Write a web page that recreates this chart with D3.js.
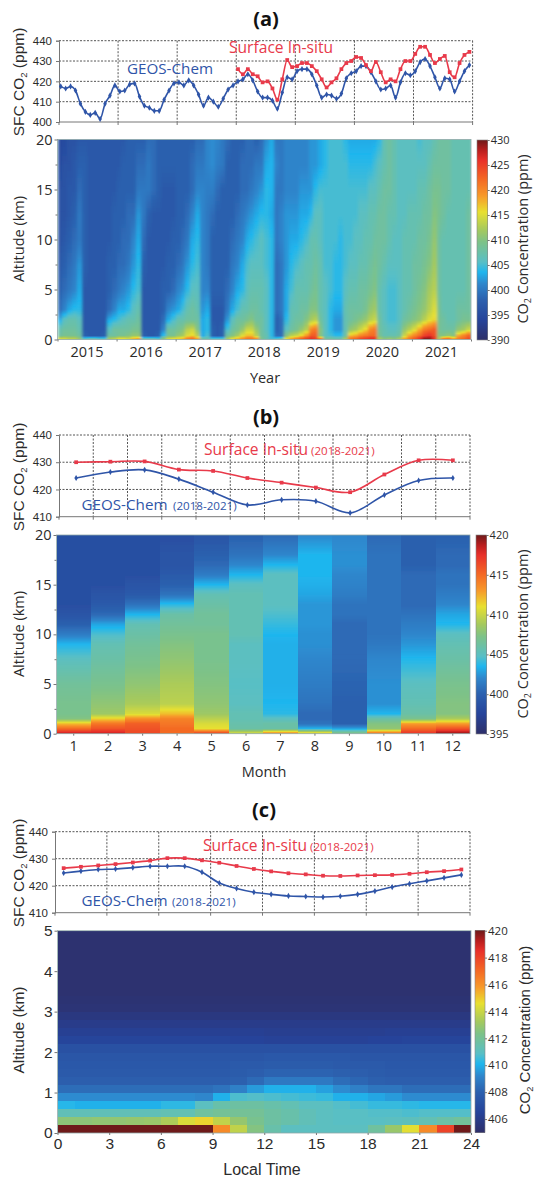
<!DOCTYPE html>
<html>
<head>
<meta charset="utf-8">
<script src="https://cdn.jsdelivr.net/npm/d3@7"></script>
<style>
body { margin: 0; background: #fff; }
svg { display: block; }
text { fill: #2b2b2b; }
</style>
</head>
<body>
<div id="plot"></div>
<script>
// surface CO2, monthly 2015-2021 (ppm)
const blueYear = [417.5,416.5,417.5,415.5,409,405,403.5,404.5,401.5,409,413,418,415,415.5,418.5,419,412.5,408,407,405.5,405.5,411,415.5,
	419,419.5,418,420.5,418,413.5,408,412,410,407.5,411.5,416,418,420,421,423.5,420.5,415,412,412,410.5,406.5,414.5,422,
	421,425,426,426,423.5,418,412,413.5,413,411.5,414,421.5,424,425,427.5,427.5,424.5,420,416,416.5,418,412,419.5,424,
	423,425,429.5,431,427.5,422,416.5,421.5,421,415,420,425,428];
const redYear = [426,423.5,426,423.5,422.5,419.5,420,416.5,411,421,430.5,427,427.5,429,429,427.5,425,421,417,419.5,421.5,426,429,430,
	432,431.5,428,425,429.5,424.5,419.5,421,420,426,430,430,433.5,437,437,433,429,431,432.5,424.5,422,429,433,434.5];
const redYearStart = 36;

const months = [1,2,3,4,5,6,7,8,9,10,11,12];
const blueMonth = [424.2,426.4,427.2,423.8,419,414.3,416.2,415.7,411.4,418,423.3,424.2];
const redMonth = [430,430.2,430.3,427.3,426.8,424.2,422.5,420.7,419,425.5,430.7,430.7];

const blueHour = [424.7,425.4,426,426.2,426.7,427.2,427.2,427.2,425,421,419,417.6,416.8,416.2,416,415.8,416.1,416.8,418,419.5,420.7,421.8,422.9,424];
const redHour = [426.5,427,427.5,428,428.6,429.3,430.2,430.2,429.4,428.5,427.3,426.2,425.3,424.6,424.2,423.7,423.6,423.8,423.9,424,424.4,425,425.4,426];

const years = [2015,2016,2017,2018,2019,2020,2021];
const sfcTicks = [400,410,420,430,440];
const sfcTicksShort = [410,420,430,440];
const altTicks = [0,5,10,15,20];
const altTicksLow = [0,1,2,3,4,5];
const hourTicks = [0,3,6,9,12,15,18,21,24];
const barTicksA = [390,395,400,405,410,415,420,425,430];
const barTicksB = [395,400,405,410,415,420];
const barTicksC = [406,408,410,412,414,416,418,420];

// altitude levels of the year profiles (km), one row per month
const levelsA = [0.1,0.4,1,2,3,5,7.5,10,12.5,15,17.5,20];
const curtainA = [
[414,408,407,403,399,398,397,396,396,396,395,395],
[414,409,408,406,401,399,398,397,396,396,396,395],
[413,409,408,407,403,400,399,398,397,397,396,396],
[413,409,408,407,404,401,400,399,398,397,397,396],
[411,408,407,406,404,403,402,400,400,399,398,397],
[405,398,397,397,397,397,398,398,398,398,398,397],
[406,397,397,397,397,397,397,397,397,397,397,397],
[406,397,397,397,397,397,397,397,397,397,397,397],
[405,397,397,397,397,397,397,397,397,397,397,397],
[405,398,397,397,397,397,397,397,397,397,397,397],
[412,408,406,403,399,398,398,397,397,397,397,397],
[413,408,408,404,401,399,398,398,398,397,397,397],
[415,409,408,405,403,400,399,398,398,398,397,397],
[415,409,408,406,403,401,399,399,398,398,398,397],
[414,410,408,407,404,402,400,399,399,398,398,398],
[417,411,409,407,406,404,402,401,399,398,398,398],
[418,411,409,408,407,405,404,403,402,400,399,398],
[406,398,397,397,397,397,398,399,400,400,399,398],
[406,397,397,397,397,397,397,397,398,400,400,399],
[406,397,397,397,397,397,397,397,397,399,399,399],
[405,398,397,397,397,397,397,397,397,398,398,398],
[410,404,401,399,398,398,397,397,397,397,398,398],
[414,409,408,403,401,398,398,397,397,397,398,398],
[415,409,408,405,402,399,398,398,397,397,398,398],
[416,411,409,407,403,401,399,398,398,398,398,398],
[417,412,410,407,405,402,400,399,398,398,398,398],
[420,415,413,408,407,404,402,400,399,398,398,398],
[421,416,414,408,408,406,404,403,401,399,399,398],
[418,413,410,408,407,406,405,404,403,401,400,399],
[407,403,403,403,402,401,401,401,401,401,400,399],
[407,405,404,404,403,401,400,400,400,400.5,401,401],
[405,398,398,397,397,398,398,398,399,400.5,401.5,401.5],
[405,397,397,397,397,398,398,398,398,399,400.5,401],
[405,398,398,397,397,398,398,398,398,398,400,400],
[412,408,405,402,400,399,398,398,398,398,398,399],
[415,410,408,406,403,401,400,399,398,398,398,398],
[417,412,409,408,405,403,401,400,399,398,398,398],
[419,415,411,408,407,404,403,401,400,399,399,398],
[421,417,414,409,407,406,405,403,401,399,399,399],
[421,417,414,410,408,407,406,404,402,400,399,399],
[419,413,411,408,408,407,406,405,403,401,400,398],
[409,408,408,408,407,407,406,406,404,402,400,399],
[407,407,406,406,406,406,405,405,404,404,403,401.5],
[405,404,404,404,404,404,404,404,403,403.5,403.5,403],
[405,399,398,398,399,399,399,400,400,400,401,400],
[406,399,399,399,400,400,400,401,401,400,400,400],
[415,410,406,404,403,403,402,402,402,401,401,401],
[418,413,408,407,407,405,404,403,402,401,401,401],
[420,414,409,408,407,407,405,403,402,401,401,401],
[422,416,411,408,408,407,406,404,403,402,401,401],
[424,419,413,410,408,407,407,405,403,402,401,401],
[426,423,420,412,410,408,407,407,404,402,402,402],
[425,423,421,413,410,409,408,407,406,404,402,402],
[420,410,410,408,407,407,407,406,406,405,403,403],
[408,406,406,406,406,406,405,405,405,405,404,404],
[408,405,404,404,404,405,405,405,405,405,405,405],
[407,404,402,402,403,404,404,405,405,405,405,405],
[407,404,402,402,403,404,404,404,405,405,405,405],
[412,408,407,407,407,406,405,405,405,405,405,404],
[421,417,411,408,408,407,406,405,405,405,404,403],
[422,418,412,409,408,407,406,406,405,405,404,403],
[424,420,414,410,408,408,407,406,406,405,404,403],
[425,421,416,411,409,408,407,407,406,405,404,403],
[426,422,420,413,411,409,408,407,407,406,404,403],
[426,422,421,414,412,410,409,408,407,406,405,403],
[412,409,408,408,407,407,408,408,408,407,406,404],
[410,407,407,406,406,406,407,408,408,408,407,407],
[411,407,406,405,405,405,406,407,407,408,408,408],
[410,407,406,405,405,405,406,406,407,407,407,407],
[412,408,407,406,406,406,406,406,406,406,406,406],
[418,414,411,408,407,407,407,407,406,406,406,406],
[421,418,413,409,408,407,407,407,407,406,406,406],
[423,420,415,410,409,408,408,407,407,406,406,406],
[426,422,418,411,410,409,408,408,407,407,406,405],
[429,425,421,413,411,410,409,408,408,407,406,406],
[429,426,422,415,413,412,410,409,408,408,407,406],
[426,424,423,416,415,413,412,411,410,409,408,407],
[412,410,409,409,409,408,408,408,409,409,408,408],
[420,410,408,408,407,407,407,407,408,408,408,408],
[421,411,408,407,407,407,407,407,407,408,408,408],
[418,410,408,407,407,407,407,407,407,407,407,407],
[421,418,411,408,408,407,407,407,407,407,407,407],
[422,420,412,409,408,407,407,407,407,407,407,407],
[424,422,414,409,408,408,408,408,408,407,407,407]
];

// month-of-year profiles, one row per month
const levelsB = [0.1,0.5,1,1.5,2,3,5,7.5,9,10,11,12,13,14,15,16,17,18,20];
const curtainB = [
[418,415,412,407.5,407,407,406.5,405,403.5,401.5,400,399,398.5,398.5,398.5,398.5,398.5,398.5,398.5],
[418,416,414.5,411.5,408.5,408,407,406,405.5,404.5,403,400.5,399.5,399,398.5,398.5,398.5,398.5,398.5],
[416.5,416,415.5,413.5,410.5,409,408,407,406.5,406,405.5,403.5,401,399.5,399,398.5,398.5,398.5,398.5],
[415,415,414.5,414,412,409.5,409,408,407.5,407,406.5,406,403.8,401,400,399.5,399,399,398.5],
[416,411,410.5,409.5,408.5,408,407.5,407,407,407,406.5,406.5,406,405.5,403.5,401.5,400.5,400,399],
[410,406,405.8,405.5,405.5,405,404.8,405,405,405.5,405.5,405.5,405.5,405.5,405,403.5,402,401,400],
[413,406,406,405,403.8,403.5,403.3,403.3,403.3,403.5,404,404.5,405,405,405,405,403.5,402,400.5],
[411,403.5,401,400.5,400.5,401,401.5,402,402.3,402.3,402.5,402.5,402.5,403,403.3,403.5,403.5,403.5,402],
[407,403,400,400,400,400,400.2,400.5,400.5,400.5,400.5,401,401,401.5,401.8,402,402.3,402.3,402],
[414,408,407.5,406,403.5,402.3,402.3,402,401.3,401,401,401,401,401,401,401,401,401,400.5],
[417,415,413,407,406,405.5,405,403.6,402.5,402,401.5,401,400.5,400.5,400.5,400.5,400,400,400],
[419,416,413,409,407.5,407.5,407,406,405.5,405,403.6,403,402,401.5,401,401,400.5,400.5,400]
];

// local time cells, 0.2 km rows from the surface up, 24 hourly columns
const curtainC = [
[420,420,420,420,420,420,420,420,420,416.2,413.8,412.5,411.5,411,411,411,411,411,411.8,413,414.5,416.2,418,420],
[412.7,412.7,412.8,412.8,412.9,413,413.4,414.3,414.8,413.8,412.9,412.2,411.7,411.5,411.2,411,410.9,410.9,410.9,411,411.1,411.3,411.6,411.9],
[411.2,411.2,411.2,411.2,411.2,411.2,411.3,411.3,411.8,412,412,412,411.7,411.5,411.2,411,410.9,410.9,410.8,410.8,410.7,410.8,410.8,410.8],
[410.2,410,410,410,410,410,410.3,410.3,411,411.5,411.7,411.7,411.5,411.3,411,411,410.8,410.6,410.4,410.4,410.3,410.2,410.2,410.2],
[409.3,409.3,409.3,409.3,409.3,409.3,409.3,409.3,409.2,410,410.7,410.8,410.7,410.6,410.5,410.4,410,410,409.8,409.6,409.3,409.3,409.3,409.3],
[408.4,408.4,408.4,408.4,408.4,408.4,408.4,408.4,408.4,408.6,409,409.6,410,410,410,409.7,409.3,409,408.7,408.7,408.4,408.4,408.4,408.4],
[407.9,407.9,407.9,407.9,407.9,407.9,407.9,407.9,407.9,407.9,408,408.3,408.8,408.8,408.8,408.8,408.4,408.2,408,407.9,407.9,407.9,407.9,407.9],
[407.7,407.7,407.7,407.7,407.7,407.7,407.7,407.7,407.7,407.7,407.8,407.9,408.1,408.1,408.1,408.1,408,407.9,407.8,407.7,407.7,407.7,407.7,407.7],
[407.6,407.6,407.6,407.6,407.6,407.6,407.6,407.6,407.6,407.6,407.7,407.7,407.8,407.8,407.8,407.8,407.7,407.7,407.7,407.6,407.6,407.6,407.6,407.6],
[407.5,407.5,407.5,407.5,407.5,407.5,407.5,407.5,407.5,407.5,407.5,407.5,407.6,407.6,407.6,407.6,407.6,407.5,407.5,407.5,407.5,407.5,407.5,407.5],
[407.2,407.2,407.2,407.2,407.2,407.2,407.2,407.2,407.2,407.2,407.2,407.2,407.2,407.2,407.2,407.2,407.2,407.2,407.2,407.2,407.2,407.2,407.2,407.2],
[406.6,406.6,406.6,406.6,406.6,406.6,406.6,406.6,406.6,406.6,406.5,406.5,406.4,406.4,406.4,406.4,406.4,406.4,406.5,406.5,406.6,406.6,406.6,406.6],
[406.3,406.3,406.3,406.3,406.3,406.3,406.3,406.3,406.3,406.3,406.3,406.3,406.2,406.2,406.2,406.2,406.2,406.2,406.2,406.3,406.3,406.3,406.3,406.3],
[406,406,406,406,406,406,406,406,406,406,406,406,406,406,406,406,406,406,406,406,406,406,406,406],
[405.7,405.7,405.7,405.7,405.7,405.7,405.7,405.7,405.7,405.7,405.7,405.7,405.7,405.7,405.7,405.7,405.7,405.7,405.7,405.7,405.7,405.7,405.7,405.7],
[405.4,405.4,405.4,405.4,405.4,405.4,405.4,405.4,405.4,405.4,405.4,405.4,405.4,405.4,405.4,405.4,405.4,405.4,405.4,405.4,405.4,405.4,405.4,405.4],
[405.3,405.3,405.3,405.3,405.3,405.3,405.3,405.3,405.3,405.3,405.3,405.3,405.3,405.3,405.3,405.3,405.3,405.3,405.3,405.3,405.3,405.3,405.3,405.3],
[405.2,405.2,405.2,405.2,405.2,405.2,405.2,405.2,405.2,405.2,405.2,405.2,405.2,405.2,405.2,405.2,405.2,405.2,405.2,405.2,405.2,405.2,405.2,405.2],
[405.2,405.2,405.2,405.2,405.2,405.2,405.2,405.2,405.2,405.2,405.2,405.2,405.2,405.2,405.2,405.2,405.2,405.2,405.2,405.2,405.2,405.2,405.2,405.2],
[405.2,405.2,405.2,405.2,405.2,405.2,405.2,405.2,405.2,405.2,405.2,405.2,405.2,405.2,405.2,405.2,405.2,405.2,405.2,405.2,405.2,405.2,405.2,405.2],
[405.2,405.2,405.2,405.2,405.2,405.2,405.2,405.2,405.2,405.2,405.2,405.2,405.2,405.2,405.2,405.2,405.2,405.2,405.2,405.2,405.2,405.2,405.2,405.2],
[405.2,405.2,405.2,405.2,405.2,405.2,405.2,405.2,405.2,405.2,405.2,405.2,405.2,405.2,405.2,405.2,405.2,405.2,405.2,405.2,405.2,405.2,405.2,405.2],
[405.2,405.2,405.2,405.2,405.2,405.2,405.2,405.2,405.2,405.2,405.2,405.2,405.2,405.2,405.2,405.2,405.2,405.2,405.2,405.2,405.2,405.2,405.2,405.2],
[405.2,405.2,405.2,405.2,405.2,405.2,405.2,405.2,405.2,405.2,405.2,405.2,405.2,405.2,405.2,405.2,405.2,405.2,405.2,405.2,405.2,405.2,405.2,405.2],
[405.2,405.2,405.2,405.2,405.2,405.2,405.2,405.2,405.2,405.2,405.2,405.2,405.2,405.2,405.2,405.2,405.2,405.2,405.2,405.2,405.2,405.2,405.2,405.2]
];

const rampStops = [0,0.1,0.2,0.28,0.34,0.39,0.44,0.49,0.55,0.64,0.72,0.8,0.9,0.95,1];
const rampColors = ["#2e2f69","#26439a","#2c60ae","#2f86cc","#1fb6ee","#58bfc6","#6bc0a6","#7dc288","#a4c95e","#e8e030","#f79a2a","#f46a24","#e8302a","#b81e1e","#6e1a1a"];
const ramp = d3.scaleLinear().domain(rampStops).range(rampColors).clamp(true);

const RED = "#e83a4a", BLUE = "#2f55a8";
const GRID = "#555";
const SANS = "'Open Sans', sans-serif";
const ARIAL = "'Liberation Sans', sans-serif";

const svg = d3.select("#plot").append("svg")
	.attr("width", 537)
	.attr("height", 1178);

const defs = svg.append("defs");
defs.append("filter").attr("id", "soft")
	.attr("x", "-2%").attr("width", "104%").attr("y", "-2%").attr("height", "104%")
	.append("feGaussianBlur").attr("edgeMode", "duplicate").attr("stdDeviation", "1.6 0.5");
defs.append("filter").attr("id", "softer")
	.attr("x", "-2%").attr("width", "104%").attr("y", "-2%").attr("height", "104%")
	.append("feGaussianBlur").attr("edgeMode", "duplicate").attr("stdDeviation", "0.5");

function label(x, y, txt, size, family, color, weight) {
	return svg.append("text")
		.attr("x", x).attr("y", y)
		.attr("font-family", family)
		.attr("font-size", size)
		.attr("font-weight", weight || "normal")
		.style("fill", color || "#2b2b2b")
		.text(txt);
}

function co2Label(x, y, head, tail, size, family) {
	const t = svg.append("text")
		.attr("transform", `translate(${x},${y})rotate(-90)`)
		.attr("text-anchor", "middle")
		.attr("font-family", family)
		.attr("font-size", size);
	t.append("tspan").text(head);
	t.append("tspan").attr("font-size", size * 0.62).attr("dy", 3).text("2");
	t.append("tspan").attr("dy", -3).text(tail);
}

// top panel: surface series with dotted grid
function surfacePanel(p) {
	const x = p.x, y = d3.scaleLinear().domain(p.yDomain).range([p.bottom, p.top]);
	const [x0, x1] = [p.left, p.right];
	const g = svg.append("g");

	g.selectAll(".gh").data(p.yTicks.slice(1))
		.join("line")
		.attr("x1", x0).attr("x2", x1)
		.attr("y1", d => y(d)).attr("y2", d => y(d))
		.attr("stroke", GRID).attr("stroke-width", 1).attr("stroke-dasharray", "2 1.5");
	g.selectAll(".gv").data(p.gridX)
		.join("line")
		.attr("x1", d => d).attr("x2", d => d)
		.attr("y1", p.top).attr("y2", p.bottom)
		.attr("stroke", GRID).attr("stroke-width", 1).attr("stroke-dasharray", "2 1.5");

	g.append("g")
		.attr("transform", `translate(${x0},0)`)
		.call(d3.axisLeft(y).tickValues(p.yTicks).tickSize(3))
		.call(a => a.selectAll("text").attr("font-family", ARIAL).attr("font-size", 11.5).attr("dx", -1))
		.call(a => a.selectAll("path,line").attr("stroke", "#777"));
	g.append("line").attr("x1", x0).attr("x2", x1).attr("y1", p.bottom).attr("y2", p.bottom).attr("stroke", "#777");
	g.selectAll(".tb").data([x0].concat(p.gridX))
		.join("line")
		.attr("x1", d => d).attr("x2", d => d)
		.attr("y1", p.bottom).attr("y2", p.bottom + 3)
		.attr("stroke", "#777");

	const line = d3.line()
		.x(d => x(d.i))
		.y(d => y(d.v))
		.curve(p.curve);

	p.series.forEach(s => {
		g.append("path")
			.attr("d", line(s.points))
			.attr("fill", "none")
			.attr("stroke", s.color)
			.attr("stroke-width", 1.6);
		g.selectAll(".m").data(s.points)
			.join("path")
			.attr("transform", d => `translate(${x(d.i)},${y(d.v)})`)
			.attr("d", d3.symbol().type(s.marker).size(s.size))
			.attr("fill", s.color);
	});
}

function axisStyle(a, family, size) {
	a.selectAll("text").attr("font-family", family).attr("font-size", size);
	a.selectAll("line").attr("stroke", "#777");
	a.select(".domain").remove();
}

// bottom panel: curtain, drawn column by column from the profiles
function curtainPanel(p) {
	const [lo, hi] = p.colorDomain;
	const color = v => ramp((v - lo) / (hi - lo));
	const y = d3.scaleLinear().domain(p.altDomain).range([p.bottom, p.top]);
	const x = d3.scaleBand().domain(d3.range(p.nCols)).range([p.left, p.right]);

	const clip = "clip" + p.id;
	defs.append("clipPath").attr("id", clip).append("rect")
		.attr("x", p.left).attr("y", p.top)
		.attr("width", p.right - p.left).attr("height", p.bottom - p.top);

	const outer = svg.append("g").attr("clip-path", `url(#${clip})`);
	const cells = outer.append("g").attr("shape-rendering", "crispEdges");
	if (p.blur) cells.attr("filter", `url(#${p.blur})`);

	if (p.levels) {
		const rows = d3.range(Math.floor(p.top), Math.ceil(p.bottom));
		p.profiles.forEach((col, c) => {
			const valueAt = d3.scaleLinear().domain(p.levels).range(col).clamp(true);
			cells.append("g").selectAll("rect").data(rows)
				.join("rect")
				.attr("x", x(c))
				.attr("y", d => d)
				.attr("width", x.bandwidth() + 0.5)
				.attr("height", 1.2)
				.attr("fill", d => color(valueAt(y.invert(d + 0.5))));
		});
	} else {
		p.profiles.forEach((row, r) => {
			cells.append("g").selectAll("rect").data(row)
				.join("rect")
				.attr("x", (d, c) => x(c))
				.attr("y", y((r + 1) * p.rowKm))
				.attr("width", x.bandwidth() + 0.5)
				.attr("height", y(r * p.rowKm) - y((r + 1) * p.rowKm) + 0.5)
				.attr("fill", d => color(d));
		});
	}

	svg.append("rect")
		.attr("x", p.left).attr("y", p.top)
		.attr("width", p.right - p.left).attr("height", p.bottom - p.top)
		.attr("fill", "none").attr("stroke", "#8fa8a8").attr("stroke-width", 0.8);

	// altitude axis
	svg.append("g")
		.attr("transform", `translate(${p.left},0)`)
		.call(d3.axisLeft(y).tickValues(p.minorAlt).tickSize(2).tickFormat(""))
		.call(a => axisStyle(a, p.family, 10));
	svg.append("g")
		.attr("transform", `translate(${p.left},0)`)
		.call(d3.axisLeft(y).tickValues(p.altTicks).tickFormat(d3.format("d")).tickSize(3).tickPadding(2))
		.call(a => axisStyle(a, p.family, p.tickSize));

	// colour bar
	const yBar = d3.scaleLinear().domain(p.colorDomain).range([p.barBottom, p.barTop]);
	svg.append("g").attr("shape-rendering", "crispEdges")
		.selectAll("rect").data(d3.range(Math.floor(p.barTop), Math.ceil(p.barBottom)))
		.join("rect")
		.attr("x", p.barLeft).attr("y", d => d)
		.attr("width", p.barRight - p.barLeft).attr("height", 1.2)
		.attr("fill", d => color(yBar.invert(d + 0.5)));
	svg.append("rect")
		.attr("x", p.barLeft).attr("y", p.barTop)
		.attr("width", p.barRight - p.barLeft).attr("height", p.barBottom - p.barTop)
		.attr("fill", "none").attr("stroke", "#888").attr("stroke-width", 0.6);
	svg.append("g")
		.attr("transform", `translate(${p.barRight},0)`)
		.call(d3.axisRight(yBar).tickValues(p.barTicks).tickSize(2).tickPadding(1))
		.call(a => axisStyle(a, SANS, p.barFont));
	return { y };
}

// (a) year panel
label(266, 26, "(a)", 20, SANS, "#111", "bold").attr("text-anchor", "middle");
co2Label(24, 82, "SFC CO", " (ppm)", 15.5, ARIAL);
const xYear = d3.scaleLinear().domain([0, 84]).range([59, 472.6]);
surfacePanel({
	x: xYear, left: 59, right: 472.6, top: 40.7, bottom: 122,
	yDomain: [400, 440], yTicks: sfcTicks,
	gridX: years.map((d, i) => xYear((i + 1) * 12)),
	curve: d3.curveMonotoneX,
	series: [
		{ color: BLUE, marker: d3.symbolDiamond, size: 11, points: blueYear.map((v, i) => ({ i: i + 0.35, v })) },
		{ color: RED, marker: d3.symbolSquare, size: 14, points: redYear.map((v, i) => ({ i: i + redYearStart + 0.35, v })) }
	]
});
label(229, 53, "Surface In-situ", 15.6, SANS, RED);
label(127, 74, "GEOS-Chem", 15.2, SANS, BLUE);

curtainPanel({
	id: "a", nCols: 84, left: 57.5, right: 471, top: 139.5, bottom: 339.5,
	altDomain: [0, 20], altTicks: altTicks, minorAlt: [2.5,7.5,12.5,17.5],
	levels: levelsA, profiles: curtainA,
	colorDomain: [390, 430], barTicks: barTicksA, blur: "soft",
	barLeft: 477, barRight: 487.7, barTop: 140, barBottom: 340, barFont: 11,
	family: SANS, tickSize: 14.5
});
const xYears = d3.scaleBand().domain(years).range([57.5, 471]);
svg.append("g")
	.attr("transform", "translate(0,339.5)")
	.call(d3.axisBottom(xYears).tickSize(0).tickPadding(7))
	.call(a => axisStyle(a, SANS, 14.5));
svg.append("g")
	.attr("transform", "translate(0,339.5)")
	.call(d3.axisBottom(d3.scaleLinear().domain([0, 7]).range([57.5, 471])).ticks(7).tickSize(2).tickFormat(""))
	.call(a => axisStyle(a, SANS, 10));
label(265, 383, "Year", 14.5, SANS).attr("text-anchor", "middle");
svg.append("text").attr("transform", "translate(24,239)rotate(-90)").attr("text-anchor", "middle")
	.attr("font-family", SANS).attr("font-size", 14.5).text("Altitude (km)");
co2Label(528, 239, "CO", " Concentration  (ppm)", 14.5, SANS);

// (b) month panel
label(266, 424, "(b)", 20, SANS, "#111", "bold").attr("text-anchor", "middle");
co2Label(24, 477, "SFC CO", " (ppm)", 15.5, ARIAL);
const xMonth = d3.scaleLinear().domain([0, 12]).range([59, 470]);
surfacePanel({
	x: xMonth, left: 59, right: 470, top: 435, bottom: 516.7,
	yDomain: [410, 440], yTicks: sfcTicksShort,
	gridX: months.map(d => xMonth(d)),
	curve: d3.curveCatmullRom,
	series: [
		{ color: BLUE, marker: d3.symbolDiamond, size: 11, points: blueMonth.map((v, i) => ({ i: i + 0.5, v })) },
		{ color: RED, marker: d3.symbolSquare, size: 14, points: redMonth.map((v, i) => ({ i: i + 0.5, v })) }
	]
});
label(204, 455, "Surface In-situ", 15.6, SANS, RED);
label(311, 455, "(2018-2021)", 11.6, SANS, RED);
label(81.5, 510, "GEOS-Chem", 15.2, SANS, BLUE);
label(173, 510, "(2018-2021)", 11.6, SANS, BLUE);

curtainPanel({
	id: "b", nCols: 12, left: 56.5, right: 470, top: 535, bottom: 733.7,
	altDomain: [0, 20], altTicks: altTicks, minorAlt: [2.5,7.5,12.5,17.5],
	levels: levelsB, profiles: curtainB,
	colorDomain: [395, 420], barTicks: barTicksB, blur: "softer",
	barLeft: 476, barRight: 486.6, barTop: 535, barBottom: 734, barFont: 11,
	family: SANS, tickSize: 14.5
});
const xMonths = d3.scaleBand().domain(months).range([56.5, 470]);
svg.append("g")
	.attr("transform", "translate(0,733.7)")
	.call(d3.axisBottom(xMonths).tickSize(2).tickPadding(5))
	.call(a => axisStyle(a, SANS, 14.5));
label(264, 777, "Month", 14.5, SANS).attr("text-anchor", "middle");
svg.append("text").attr("transform", "translate(24,634)rotate(-90)").attr("text-anchor", "middle")
	.attr("font-family", SANS).attr("font-size", 14.5).text("Altitude (km)");
co2Label(528, 634, "CO", " Concentration  (ppm)", 14.5, SANS);

// (c) local time panel
label(264, 817, "(c)", 20, SANS, "#111", "bold").attr("text-anchor", "middle");
co2Label(24, 873, "SFC CO", " (ppm)", 15.5, ARIAL);
const xHour = d3.scaleLinear().domain([0, 24]).range([55, 470]);
surfacePanel({
	x: xHour, left: 55, right: 470, top: 831.7, bottom: 912.7,
	yDomain: [410, 440], yTicks: sfcTicksShort,
	gridX: hourTicks.slice(1).map(d => xHour(d)),
	curve: d3.curveCatmullRom,
	series: [
		{ color: BLUE, marker: d3.symbolDiamond, size: 11, points: blueHour.map((v, i) => ({ i: i + 0.5, v })) },
		{ color: RED, marker: d3.symbolSquare, size: 14, points: redHour.map((v, i) => ({ i: i + 0.5, v })) }
	]
});
label(203, 851, "Surface In-situ", 15.6, SANS, RED);
label(310, 851, "(2018-2021)", 11.6, SANS, RED);
label(81.5, 906, "GEOS-Chem", 15.2, SANS, BLUE);
label(172, 906, "(2018-2021)", 11.6, SANS, BLUE);

curtainPanel({
	id: "c", nCols: 24, left: 57.5, right: 471, top: 930.7, bottom: 1133,
	altDomain: [0, 5], altTicks: altTicksLow, minorAlt: [],
	rowKm: 0.2, profiles: curtainC,
	colorDomain: [405, 420], barTicks: barTicksC,
	barLeft: 475, barRight: 485, barTop: 930.7, barBottom: 1132.5, barFont: 11.5,
	family: ARIAL, tickSize: 15.5
});
const xHours = d3.scaleLinear().domain([0, 24]).range([57.5, 471]);
svg.append("g")
	.attr("transform", "translate(0,1133)")
	.call(d3.axisBottom(xHours).tickValues(hourTicks).tickSize(2).tickPadding(3))
	.call(a => axisStyle(a, ARIAL, 15.5));
label(262, 1175, "Local Time", 16, ARIAL).attr("text-anchor", "middle");
svg.append("text").attr("transform", "translate(24,1030)rotate(-90)").attr("text-anchor", "middle")
	.attr("font-family", ARIAL).attr("font-size", 15.5).text("Altitude (km)");
co2Label(530, 1030, "CO", " Concentration (ppm)", 15, ARIAL);
</script>
</body>
</html>
